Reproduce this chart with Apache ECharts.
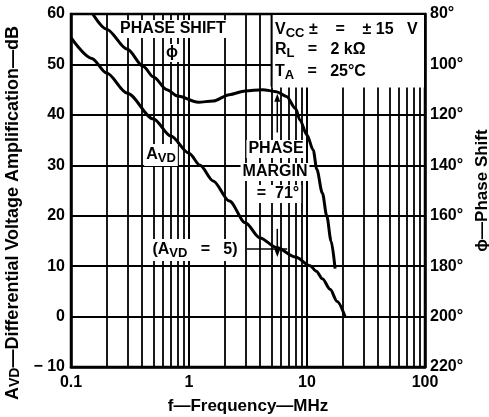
<!DOCTYPE html>
<html>
<head>
<meta charset="utf-8">
<script src="https://cdn.jsdelivr.net/npm/echarts@6/dist/echarts.min.js"></script>
<style>
  html, body { margin: 0; padding: 0; background: #fff; }
  #chart { width: 489px; height: 417px; }
</style>
</head>
<body>
<div id="chart"></div>
<script>
// gain curve  (MHz, dB)
const gainFreq = [0.1, 0.15, 0.2, 0.3, 0.5, 0.7, 1, 1.24, 1.6, 2.2, 3, 4, 5.5, 8, 10.6, 12, 13.5, 15.7, 18, 21]
const gainDb = [55.3, 51.2, 48.3, 44.3, 39.2, 35.8, 32.4, 30.0, 26.9, 22.9, 18.6, 15.6, 13.7, 11.8, 10.1, 9.0, 7.5, 5.4, 3, 0]

// phase curve (MHz, degrees)
const phaseFreq = [0.153, 0.2, 0.3, 0.41, 0.5, 0.65, 0.8, 1.2, 1.6, 2.2, 3, 4.2, 5.5, 6.7, 8, 8.7, 10, 11.3, 12.1, 13.5, 14.7, 16, 17.3]
const phaseDeg = [80, 86, 94, 100.8, 105, 110, 112.5, 115, 114.5, 112, 110.5, 110, 110.8, 112.7, 117.5, 122, 128, 134, 141.6, 151, 160, 170, 181]

// minor log grid lines
const gridFreq = [0.2, 0.3, 0.4, 0.5, 0.6, 0.7, 0.8, 0.9, 2, 3, 4, 5, 6, 7, 8, 9, 20, 30, 40, 50, 60, 70, 80, 90]

const font = '"Liberation Sans", Arial, sans-serif'
const bold = { fontFamily: font, fontWeight: 'bold', color: '#000' }

const chart = echarts.init(document.getElementById('chart'))

function pair(xs, ys) {
  return xs.map((x, i) => [x, ys[i]])
}

const sub = { fontFamily: font, fontWeight: 'bold', fontSize: 13, padding: [7, 0, 0, 0] }
const big = { fontFamily: font, fontWeight: 'bold', fontSize: 16 }

chart.setOption({
  animation: false,
  grid: {
    left: 71, right: 64, top: 14, bottom: 50,
    outerBoundsMode: 'none',
    containLabel: false,
    show: true, borderColor: '#000', borderWidth: 2.5
  },
  xAxis: {
    type: 'log',
    logBase: 10,
    min: 0.1,
    max: 100,
    name: 'f—Frequency—MHz',
    nameLocation: 'middle',
    nameGap: 31,
    nameTextStyle: { ...bold, fontSize: 17 },
    axisLine: { onZero: false, lineStyle: { color: '#000', width: 2.5 } },
    axisTick: { show: false },
    axisLabel: { ...bold, fontSize: 16, margin: 8 },
    splitLine: { show: true, lineStyle: { color: '#000', width: 2 } }
  },
  yAxis: [
    {
      type: 'value',
      min: -10,
      max: 60,
      interval: 10,
      name: '{a|A}{s|VD}{a|—Differential Voltage Amplification—dB}',
      nameLocation: 'middle',
      nameGap: 45,
      nameTextStyle: {
        padding: [0, 45, 0, 0],
        rich: { a: { ...bold, fontSize: 18 }, s: { ...bold, fontSize: 14, padding: [5, 0, 0, 0] } }
      },
      axisLine: { show: true, lineStyle: { color: '#000', width: 2.5 } },
      axisTick: { show: false },
      axisLabel: { ...bold, fontSize: 16, margin: 6, formatter: v => v < 0 ? '− ' + (-v) : '' + v },
      splitLine: { show: true, lineStyle: { color: '#000', width: 1.8 } }
    },
    {
      type: 'value',
      min: 80,
      max: 220,
      interval: 20,
      inverse: true,
      position: 'right',
      name: 'ϕ—Phase Shift',
      nameLocation: 'middle',
      nameGap: 47,
      nameRotate: 90,
      nameTextStyle: { ...bold, fontSize: 17 },
      axisLine: { show: true, lineStyle: { color: '#000', width: 2.5 } },
      axisTick: { show: false },
      axisLabel: { ...bold, fontSize: 16, margin: 5, formatter: '{value}°' },
      splitLine: { show: false }
    }
  ],
  series: [
    {
      name: 'grid',
      type: 'line',
      data: [],
      silent: true,
      markLine: {
        silent: true,
        symbol: 'none',
        label: { show: false },
        lineStyle: { color: '#000', width: 1.8, type: 'solid' },
        data: gridFreq.map(f => ({ xAxis: f }))
      }
    },
    {
      name: 'AVD',
      type: 'line',
      data: pair(gainFreq, gainDb),
      smooth: 0.3,
      smoothMonotone: 'x',
      symbol: 'none',
      lineStyle: { color: '#000', width: 3 },
      z: 5
    },
    {
      name: 'Phase',
      type: 'line',
      yAxisIndex: 1,
      data: pair(phaseFreq, phaseDeg),
      smooth: 0.3,
      smoothMonotone: 'x',
      symbol: 'none',
      lineStyle: { color: '#000', width: 3 },
      z: 5
    }
  ]
})

// annotations
const p = (f, db) => chart.convertToPixel({ xAxisIndex: 0, yAxisIndex: 0 }, [f, db])
const boxTop = p(5, 60), boxBot = p(5, 45.6), corner = p(100, 60)
const up0 = p(5.6, 36.5), up1 = p(5.6, 44.2)
const dn0 = p(5.6, 17.4), dn1 = p(5.6, 11.8)
const h0 = p(3.1, 13.4), h1 = p(6.8, 13.4)

function txt(x, y, rich, text, align) {
  return {
    type: 'text', x, y, z: 20,
    style: { text, rich, align: align || 'center', verticalAlign: 'middle', backgroundColor: '#fff', padding: [1, 2] }
  }
}

chart.setOption({
  graphic: [
    { type: 'rect', z: 10, shape: { x: boxTop[0] + 1, y: boxTop[1] + 1, width: corner[0] - boxTop[0] - 2, height: boxBot[1] - boxTop[1] }, style: { fill: '#fff' } },
    { type: 'line', z: 11, shape: { x1: boxTop[0], y1: boxTop[1], x2: boxTop[0], y2: boxBot[1] }, style: { stroke: '#000', lineWidth: 1.8 } },
    txt(273, 30, { a: big, s: sub }, '{a|V}{s|CC}{a| ±    =    ± 15   V}', 'left'),
    txt(273, 50, { a: big, s: sub }, '{a|R}{s|L}{a|   =   2 kΩ}', 'left'),
    txt(273, 72, { a: big, s: sub }, '{a|T}{s|A}{a|   =   25°C}', 'left'),
    txt(173, 29, { a: big }, '{a|PHASE SHIFT}'),
    txt(172, 53, { a: big }, '{a|ϕ}'),
    txt(161, 155, { a: big, s: sub }, '{a|A}{s|VD}'),
    txt(276, 149, { a: big }, '{a|PHASE}'),
    txt(275, 172, { a: big }, '{a|MARGIN}'),
    txt(278, 194, { a: big }, '{a|=  71°}'),
    txt(195, 250, { a: big, s: sub }, '{a|(A}{s|VD}{a|   =   5)}'),
    { type: 'line', z: 12, shape: { x1: h0[0], y1: h0[1], x2: h1[0], y2: h1[1] }, style: { stroke: '#000', lineWidth: 1.5 } },
    { type: 'line', z: 12, shape: { x1: up0[0], y1: up0[1], x2: up1[0], y2: up1[1] + 4 }, style: { stroke: '#000', lineWidth: 1.5 } },
    { type: 'polygon', z: 12, shape: { points: [[up1[0], up1[1]], [up1[0] - 3, up1[1] + 8], [up1[0] + 3, up1[1] + 8]] }, style: { fill: '#000' } },
    { type: 'line', z: 12, shape: { x1: dn0[0], y1: dn0[1], x2: dn1[0], y2: dn1[1] - 4 }, style: { stroke: '#000', lineWidth: 1.5 } },
    { type: 'polygon', z: 12, shape: { points: [[dn1[0], dn1[1]], [dn1[0] - 3, dn1[1] - 8], [dn1[0] + 3, dn1[1] - 8]] }, style: { fill: '#000' } }
  ]
})
</script>
</body>
</html>
